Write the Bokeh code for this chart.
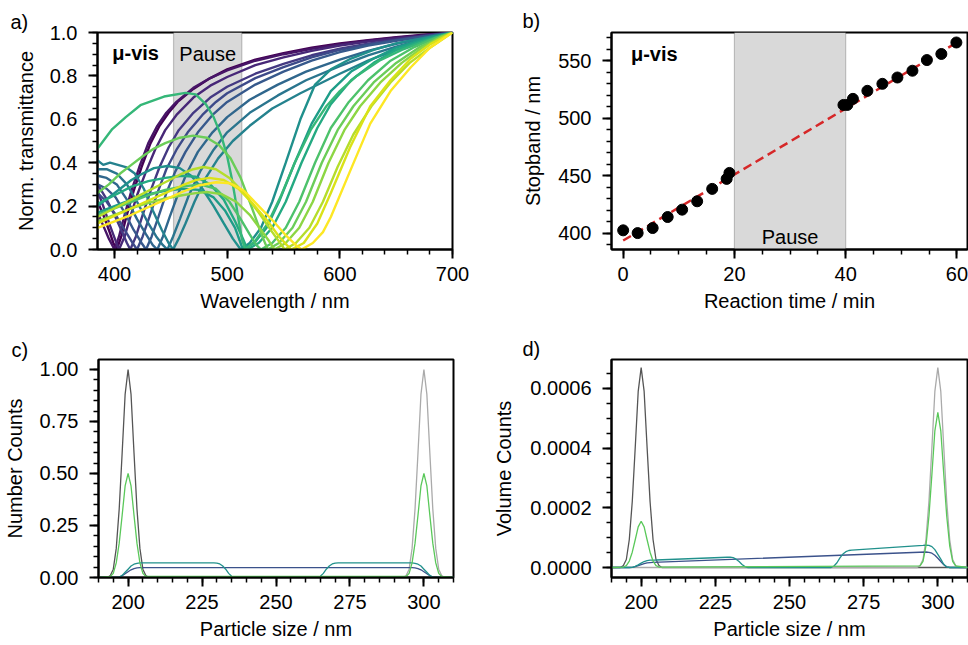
from bokeh.plotting import figure
from bokeh.models import Range1d, SingleIntervalTicker, BoxAnnotation, Label, PrintfTickFormatter
from bokeh.layouts import column, row
from bokeh.embed import file_html
from bokeh.resources import INLINE
from bokeh.palettes import Viridis256

FONT = "Liberation Sans"

# ---------------- data ----------------
# panel b: stopband position vs reaction time
stopband_time = [0.0, 2.6, 5.3, 8.0, 10.6, 13.3, 16.0, 18.6, 19.1, 39.6, 40.3, 41.3,
                 43.9, 46.6, 49.3, 52.0, 54.6, 57.2, 59.9]
stopband_nm = [402.4, 400.0, 404.4, 414.0, 420.4, 427.7, 438.5, 447.2, 452.4, 511.6, 511.6,
               516.9, 523.9, 530.0, 535.5, 541.4, 550.7, 556.0, 566.0]
fit_time = [0, 60]
fit_nm = [393.5, 566.0]
pause_time = [20, 40]
pause_wl = [452.4, 513.0]

# panel a: normalised transmittance spectra (wavelength nm, T), one list per spectrum
spectra = [
    [(385,0.22),(390,0.16),(395,0.09),(399,0.03),(402,0.0),(406,0.06),(411,0.16),(417,0.27),(424,0.38),(432,0.49),(440,0.57),(448,0.63),(456,0.68),(470,0.74),(485,0.79),(500,0.83),(525,0.875),(550,0.905),(575,0.93),(600,0.95),(625,0.965),(650,0.978),(675,0.99),(700,1.0)],
    [(385,0.17),(390,0.11),(395,0.05),(400,0.0),(404,0.06),(409,0.16),(415,0.27),(422,0.38),(430,0.49),(438,0.57),(446,0.63),(455,0.68),(470,0.745),(485,0.79),(500,0.825),(525,0.87),(550,0.9),(575,0.925),(600,0.945),(625,0.962),(650,0.976),(675,0.988),(700,1.0)],
    [(385,0.27),(390,0.2),(396,0.11),(401,0.04),(404,0.0),(409,0.06),(414,0.15),(420,0.25),(428,0.36),(436,0.46),(445,0.55),(455,0.62),(470,0.7),(485,0.755),(500,0.795),(525,0.85),(550,0.885),(575,0.915),(600,0.94),(625,0.958),(650,0.973),(675,0.987),(700,1.0)],
    [(385,0.3),(392,0.24),(399,0.17),(406,0.09),(411,0.03),(414,0.0),(419,0.06),(425,0.16),(432,0.27),(440,0.38),(448,0.47),(457,0.55),(470,0.63),(485,0.7),(500,0.75),(525,0.81),(550,0.855),(575,0.895),(600,0.925),(625,0.948),(650,0.967),(675,0.984),(700,1.0)],
    [(385,0.26),(393,0.22),(401,0.16),(409,0.09),(416,0.03),(420,0.0),(425,0.06),(431,0.15),(438,0.26),(446,0.37),(455,0.46),(465,0.54),(478,0.62),(490,0.68),(500,0.72),(525,0.79),(550,0.84),(575,0.885),(600,0.92),(625,0.945),(650,0.965),(675,0.983),(700,1.0)],
    [(385,0.3),(393,0.28),(401,0.24),(409,0.17),(417,0.09),(424,0.03),(428,0.0),(433,0.06),(439,0.15),(446,0.26),(454,0.36),(463,0.45),(474,0.54),(487,0.62),(500,0.68),(525,0.76),(550,0.82),(575,0.87),(600,0.91),(625,0.94),(650,0.962),(675,0.982),(700,1.0)],
    [(385,0.34),(393,0.33),(402,0.3),(411,0.23),(420,0.14),(428,0.07),(434,0.02),(438,0.0),(443,0.06),(449,0.15),(456,0.25),(464,0.35),(474,0.45),(487,0.54),(500,0.61),(520,0.69),(545,0.76),(570,0.82),(600,0.875),(625,0.915),(650,0.948),(675,0.976),(700,1.0)],
    [(385,0.37),(393,0.37),(402,0.35),(411,0.3),(420,0.22),(429,0.13),(437,0.06),(443,0.02),(447,0.0),(452,0.06),(458,0.14),(466,0.25),(476,0.36),(488,0.46),(500,0.54),(520,0.63),(545,0.71),(570,0.78),(600,0.845),(625,0.895),(650,0.935),(675,0.97),(700,1.0)],
    [(385,0.41),(390,0.39),(396,0.4),(403,0.39),(410,0.38),(418,0.35),(426,0.28),(434,0.18),(442,0.09),(448,0.03),(452,0.0),(457,0.05),(463,0.12),(471,0.22),(481,0.33),(492,0.42),(505,0.5),(520,0.57),(540,0.65),(565,0.72),(600,0.81),(625,0.87),(650,0.92),(675,0.963),(700,1.0)],
    [(385,0.2),(395,0.24),(405,0.28),(415,0.32),(425,0.35),(435,0.375),(447,0.385),(458,0.375),(468,0.34),(478,0.28),(488,0.2),(497,0.12),(505,0.05),(512,0.0),(520,0.03),(530,0.1),(540,0.22),(552,0.4),(565,0.6),(578,0.76),(592,0.83),(610,0.88),(630,0.92),(650,0.95),(675,0.975),(700,1.0)],
    [(385,0.17),(400,0.2),(415,0.23),(430,0.255),(445,0.27),(460,0.28),(475,0.275),(488,0.24),(498,0.18),(507,0.1),(514,0.0),(524,0.03),(535,0.1),(546,0.22),(560,0.4),(575,0.58),(592,0.73),(610,0.82),(630,0.88),(650,0.93),(675,0.97),(700,1.0)],
    [(385,0.21),(400,0.25),(415,0.29),(430,0.315),(445,0.33),(460,0.34),(472,0.335),(485,0.3),(497,0.23),(507,0.13),(514,0.05),(518,0.0),(528,0.03),(540,0.1),(552,0.22),(566,0.4),(580,0.56),(592,0.67),(610,0.78),(630,0.86),(650,0.92),(675,0.965),(700,1.0)],
    [(385,0.465),(390,0.5),(398,0.555),(410,0.61),(423,0.665),(444,0.705),(463,0.722),(472,0.715),(481,0.67),(488,0.61),(495,0.52),(500,0.43),(504,0.33),(507,0.24),(510,0.14),(513,0.05),(516,0.0),(525,0.04),(536,0.12),(548,0.25),(560,0.4),(574,0.55),(588,0.66),(600,0.73),(615,0.8),(635,0.87),(655,0.92),(678,0.965),(700,1.0)],
    [(385,0.16),(400,0.19),(415,0.22),(430,0.25),(445,0.275),(460,0.29),(476,0.3),(490,0.28),(502,0.22),(512,0.14),(520,0.07),(526,0.02),(530,0.0),(540,0.03),(552,0.1),(564,0.22),(578,0.4),(592,0.56),(608,0.68),(625,0.78),(645,0.87),(665,0.93),(685,0.975),(700,1.0)],
    [(385,0.26),(395,0.3),(405,0.35),(415,0.39),(425,0.43),(435,0.465),(445,0.49),(458,0.515),(470,0.525),(482,0.515),(493,0.48),(503,0.42),(512,0.33),(520,0.22),(527,0.12),(532,0.05),(536,0.0),(546,0.03),(558,0.1),(570,0.22),(584,0.4),(598,0.55),(612,0.66),(630,0.77),(650,0.86),(670,0.93),(688,0.975),(700,1.0)],
    [(385,0.13),(400,0.16),(415,0.19),(430,0.215),(445,0.235),(460,0.25),(472,0.26),(482,0.265),(495,0.255),(508,0.22),(520,0.16),(530,0.09),(537,0.04),(542,0.0),(552,0.03),(564,0.1),(576,0.22),(590,0.4),(604,0.55),(618,0.66),(636,0.77),(655,0.86),(673,0.93),(690,0.98),(700,1.0)],
    [(385,0.15),(400,0.19),(415,0.23),(430,0.27),(445,0.31),(460,0.35),(470,0.37),(479,0.38),(490,0.37),(502,0.33),(515,0.26),(528,0.17),(540,0.08),(547,0.03),(551,0.0),(561,0.03),(573,0.1),(585,0.22),(598,0.38),(612,0.53),(628,0.66),(645,0.77),(662,0.86),(680,0.93),(700,1.0)],
    [(385,0.12),(400,0.155),(415,0.19),(430,0.225),(445,0.26),(460,0.295),(472,0.32),(484,0.33),(497,0.32),(510,0.28),(523,0.21),(536,0.13),(546,0.06),(553,0.02),(557,0.0),(568,0.03),(580,0.12),(592,0.26),(609,0.47),(627,0.66),(645,0.78),(663,0.88),(680,0.945),(700,1.0)],
    [(385,0.1),(400,0.13),(415,0.16),(430,0.195),(445,0.23),(460,0.265),(475,0.295),(490,0.31),(503,0.305),(515,0.27),(528,0.2),(541,0.13),(553,0.06),(561,0.02),(566,0.0),(576,0.03),(585,0.08),(592,0.15),(609,0.36),(627,0.58),(645,0.73),(663,0.84),(680,0.93),(700,1.0)],
]

# panels c/d: particle size distributions
peak200_x = [190, 193, 194, 195, 196, 197, 198, 199, 200, 201, 202, 203, 204, 205, 206, 207, 310]
peak300_x = [190, 293, 294, 295, 296, 297, 298, 299, 300, 301, 302, 303, 304, 305, 306, 307, 310]
num_gray_peak = [0, 0, 0.01, 0.04, 0.14, 0.33, 0.60, 0.88, 1.00, 0.88, 0.60, 0.33, 0.14, 0.04, 0.01, 0, 0]
vol_gray_peak = [0, 0, 0.0000067, 0.0000268, 0.0000938, 0.000221, 0.000402, 0.00059, 0.00067,
                 0.00059, 0.000402, 0.000221, 0.0000938, 0.0000268, 0.0000067, 0, 0]
green_x = [190, 194, 195, 196, 197, 198, 199, 200, 201, 202, 203, 204, 205, 206,
           294, 295, 296, 297, 298, 299, 300, 301, 302, 303, 304, 305, 306, 310]
num_green = [0, 0.005, 0.02, 0.07, 0.165, 0.3, 0.44, 0.5, 0.44, 0.3, 0.165, 0.07, 0.02, 0.005,
             0.005, 0.02, 0.07, 0.165, 0.3, 0.44, 0.5, 0.44, 0.3, 0.165, 0.07, 0.02, 0.005, 0]
vol_green = [0, 0.0000016, 0.0000062, 0.0000217, 0.0000512, 0.000093, 0.000136, 0.000155, 0.000136,
             0.000093, 0.0000512, 0.0000217, 0.0000062, 0.0000016,
             0.0000052, 0.0000208, 0.0000728, 0.0001716, 0.000312, 0.000458, 0.00052, 0.000458,
             0.000312, 0.0001716, 0.0000728, 0.0000208, 0.0000052, 0]
teal_x = [190, 196, 197, 198, 199, 200, 201, 202, 203, 204, 205,
          229, 230, 231, 232, 233, 234, 235, 236,
          264, 265, 266, 267, 268, 269, 270, 271,
          295, 296, 297, 298, 299, 300, 301, 302, 303, 304, 310]
num_teal = [0, 0, 0.002, 0.01, 0.025, 0.04, 0.055, 0.064, 0.068, 0.07, 0.07,
            0.07, 0.069, 0.065, 0.055, 0.04, 0.02, 0.006, 0,
            0, 0.006, 0.02, 0.04, 0.055, 0.065, 0.069, 0.07,
            0.07, 0.07, 0.068, 0.064, 0.055, 0.04, 0.025, 0.01, 0.002, 0, 0]
vol_teal = [0, 0, 0.0000007, 0.0000036, 0.000009, 0.0000145, 0.00002, 0.000023, 0.0000245, 0.000025, 0.0000252,
            0.0000343, 0.0000345, 0.000033, 0.000028, 0.00002, 0.00001, 0.000003, 0,
            0, 0.000005, 0.000016, 0.000032, 0.000045, 0.000053, 0.000057, 0.000058,
            0.000074, 0.000075, 0.000074, 0.00007, 0.00006, 0.000044, 0.000028, 0.000011, 0.000002, 0, 0]
blue_x = [190, 196, 197, 198, 199, 200, 201, 202, 203, 204,
          296, 297, 298, 299, 300, 301, 302, 303, 304, 310]
num_blue = [0, 0, 0.002, 0.008, 0.018, 0.028, 0.037, 0.043, 0.046, 0.047,
            0.047, 0.046, 0.043, 0.037, 0.028, 0.018, 0.008, 0.002, 0, 0]
vol_blue = [0, 0, 0.0000007, 0.0000028, 0.0000063, 0.00001, 0.0000132, 0.0000154, 0.0000165, 0.000017,
            0.000052, 0.000051, 0.000048, 0.000041, 0.000031, 0.00002, 0.000009, 0.000002, 0, 0]

# ---------------- styling helpers ----------------
def style(p, xlabel, ylabel, xt, yt, yfmt=None, ylab_stand=10):
    p.grid.visible = False
    p.outline_line_color = "black"
    p.outline_line_width = 2
    p.outline_line_alpha = 1
    p.background_fill_color = "white"
    p.border_fill_color = "white"
    p.xaxis.ticker = xt
    p.yaxis.ticker = yt
    if yfmt:
        p.yaxis.formatter = PrintfTickFormatter(format=yfmt)
    p.xaxis.axis_label = xlabel
    p.yaxis.axis_label = ylabel
    for ax in p.xaxis + p.yaxis:
        ax.axis_line_color = "black"
        ax.axis_line_width = 2
        ax.major_tick_line_color = "black"
        ax.major_tick_line_width = 2
        ax.minor_tick_line_color = "black"
        ax.minor_tick_line_width = 1.5
        ax.major_tick_out = 9
        ax.major_tick_in = 0
        ax.minor_tick_out = 5
        ax.minor_tick_in = 0
        ax.major_label_text_font = FONT
        ax.major_label_text_font_size = "20px"
        ax.major_label_text_color = "black"
        ax.axis_label_text_font = FONT
        ax.axis_label_text_font_size = "20px"
        ax.axis_label_text_font_style = "normal"
        ax.axis_label_text_color = "black"
    p.xaxis.major_label_standoff = 8
    p.xaxis.axis_label_standoff = 6
    p.yaxis.major_label_standoff = 11
    p.yaxis.axis_label_standoff = ylab_stand


def letter(p, t, offset, standoff):
    p.title.text = t
    p.title.align = "left"
    p.title.offset = offset
    p.title.standoff = standoff
    p.title.text_font = FONT
    p.title.text_font_size = "20px"
    p.title.text_font_style = "normal"
    p.title.text_color = "black"


def text(p, x, y, t, bold=False, align="left"):
    p.add_layout(Label(x=x, y=y, text=t, text_font=FONT, text_font_size="20px",
                       text_font_style="bold" if bold else "normal", text_color="black",
                       text_baseline="alphabetic", text_align=align))

# ---------------- panel a ----------------
pa = figure(width=484, height=318, x_range=Range1d(384.9, 700), y_range=Range1d(0, 1),
            output_backend="svg", toolbar_location=None,
            min_border_left=97, min_border_right=32, min_border_top=32, min_border_bottom=69)
style(pa, "Wavelength / nm", "Norm. transmittance",
      SingleIntervalTicker(interval=100, num_minor_ticks=5),
      SingleIntervalTicker(interval=0.2, num_minor_ticks=4), "%.1f", 10)
pa.add_layout(BoxAnnotation(left=pause_wl[0], right=pause_wl[1], fill_color="#d9d9d9", fill_alpha=1,
                            line_color="#4d4d4d", line_width=1.2, level="underlay"))
n = len(spectra)
for i, s in enumerate(spectra):
    col = Viridis256[int(round(i * 255 / (n - 1)))]
    pa.line([q[0] for q in s], [q[1] for q in s], line_color=col, line_width=2.4)
text(pa, 398, 0.905, "\u03bc-vis", bold=True)
text(pa, (pause_wl[0] + pause_wl[1]) / 2, 0.9, "Pause", align="center")
letter(pa, "a)", -87, 0)

# ---------------- panel b ----------------
pb = figure(width=484, height=318, x_range=Range1d(-2.1, 61.9), y_range=Range1d(385.7, 574.7),
            output_backend="svg", toolbar_location=None,
            min_border_left=127, min_border_right=1, min_border_top=32, min_border_bottom=69)
style(pb, "Reaction time / min", "Stopband / nm",
      SingleIntervalTicker(interval=20, num_minor_ticks=4),
      SingleIntervalTicker(interval=50, num_minor_ticks=5), None, 11)
pb.add_layout(BoxAnnotation(left=pause_time[0], right=pause_time[1], fill_color="#d9d9d9", fill_alpha=1,
                            line_color="#4d4d4d", line_width=1.2, level="underlay"))
pb.line(fit_time, fit_nm, line_color="#d62728", line_width=2.5, line_dash="9 5")
pb.scatter(stopband_time, stopband_nm, size=11, fill_color="black", line_color="black")
text(pb, 1.4, 556, "\u03bc-vis", bold=True)
text(pb, 30, 397, "Pause", align="center")
letter(pb, "b)", -89, 2)

# ---------------- panel c ----------------
pc = figure(width=484, height=327, x_range=Range1d(190, 310), y_range=Range1d(0, 1.048),
            output_backend="svg", toolbar_location=None,
            min_border_left=97, min_border_right=31, min_border_top=41, min_border_bottom=68)
style(pc, "Particle size / nm", "Number Counts",
      SingleIntervalTicker(interval=25, num_minor_ticks=5),
      SingleIntervalTicker(interval=0.25, num_minor_ticks=5), "%.2f", 11)
pc.line(peak200_x, num_gray_peak, line_color="#555555", line_width=1.3)
pc.line(peak300_x, num_gray_peak, line_color="#aaaaaa", line_width=1.3)
pc.line(blue_x, num_blue, line_color="#3b528b", line_width=1.3)
pc.line(teal_x, num_teal, line_color="#21918c", line_width=1.3)
pc.line(green_x, num_green, line_color="#5ac85a", line_width=1.3)
letter(pc, "c)", -87, -2)

# ---------------- panel d ----------------
pd = figure(width=484, height=327, x_range=Range1d(190, 310), y_range=Range1d(-0.0000335, 0.000697),
            output_backend="svg", toolbar_location=None,
            min_border_left=127, min_border_right=1, min_border_top=41, min_border_bottom=68)
style(pd, "Particle size / nm", "Volume Counts",
      SingleIntervalTicker(interval=25, num_minor_ticks=5),
      SingleIntervalTicker(interval=0.0002, num_minor_ticks=4), "%.4f", 12)
pd.line(peak200_x, vol_gray_peak, line_color="#555555", line_width=1.3)
pd.line(peak300_x, vol_gray_peak, line_color="#aaaaaa", line_width=1.3)
pd.line(blue_x, vol_blue, line_color="#3b528b", line_width=1.3)
pd.line(teal_x, vol_teal, line_color="#21918c", line_width=1.3)
pd.line(green_x, vol_green, line_color="#5ac85a", line_width=1.3)
letter(pd, "d)", -89, 0)

layout = column(row(pa, pb), row(pc, pd))
open("out.html", "w").write(file_html(layout, INLINE))
